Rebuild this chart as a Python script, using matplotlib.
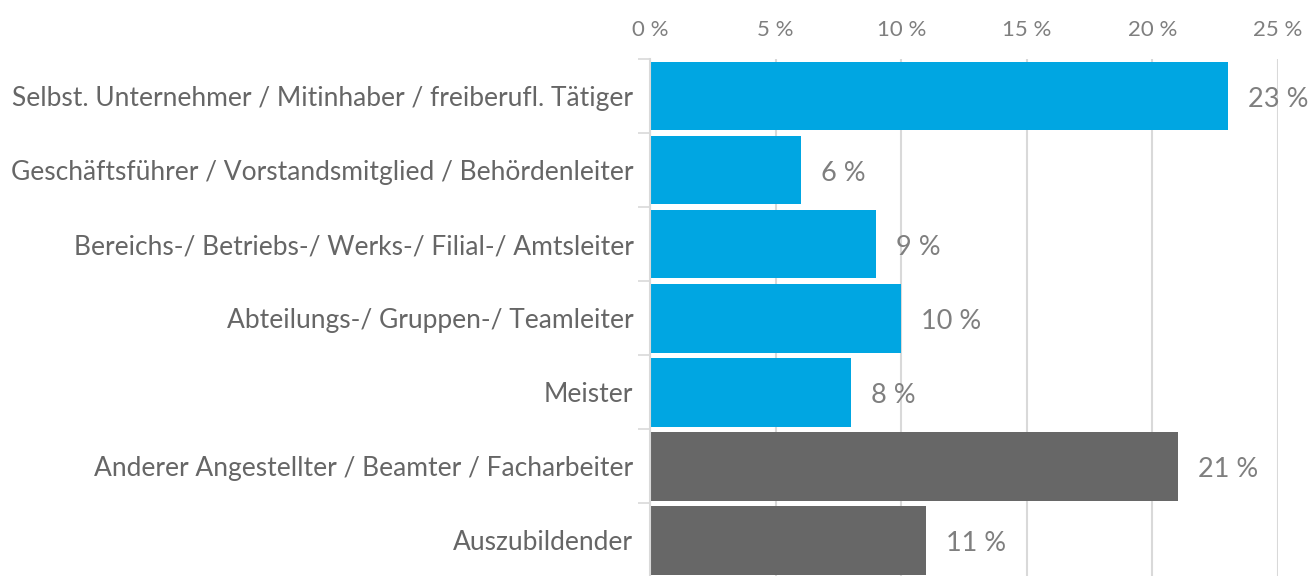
import numpy as np
import matplotlib.pyplot as plt
from matplotlib.ticker import FixedLocator, FuncFormatter

plt.rcParams['font.family'] = ['Lato', 'DejaVu Sans']

categories = [
	'Selbst. Unternehmer / Mitinhaber / freiberufl. Tätiger',
	'Geschäftsführer / Vorstandsmitglied / Behördenleiter',
	'Bereichs-/ Betriebs-/ Werks-/ Filial-/ Amtsleiter',
	'Abteilungs-/ Gruppen-/ Teamleiter',
	'Meister',
	'Anderer Angestellter / Beamter / Facharbeiter',
	'Auszubildender',
]
values = [23, 6, 9, 10, 8, 21, 11]
groups = ['lead', 'lead', 'lead', 'lead', 'lead', 'other', 'other']
ticks = [0, 5, 10, 15, 20, 25]

colors = {'lead': '#00a6e2', 'other': '#676767'}

fig = plt.figure(figsize=(13.09, 5.76), dpi=100)
ax = fig.add_axes([0.4966, -0.002, 0.4797, 0.8995])

y = np.arange(len(categories))
ax.barh(y, values, height=0.93, color=[colors[g] for g in groups], zorder=2)

for yi, v in zip(y, values):
	ax.text(v + 0.8, yi + 0.05, f'{v} %', va='center', ha='left', fontsize=19.5, color='#7f7f7f', zorder=3)

ax.set_xlim(0, 25)
ax.set_ylim(len(categories) - 0.5, -0.5)
ax.xaxis.tick_top()
ax.set_xticks(ticks)
ax.xaxis.set_major_formatter(FuncFormatter(lambda x, pos: f'{int(x)} %'))
ax.tick_params(axis='x', length=0, pad=14, labelsize=16, labelcolor='#7f7f7f')
ax.grid(axis='x', color='#d9d9d9', linewidth=1.5, zorder=0)

ax.set_yticks(y)
ax.set_yticklabels(categories)
ax.yaxis.set_minor_locator(FixedLocator(np.arange(-0.5, len(categories), 1.0)))
ax.tick_params(axis='y', which='major', length=0, pad=12, labelsize=19, labelcolor='#666666')
ax.tick_params(axis='y', which='minor', length=9, width=1.2, color='#d9d9d9')

for s in ['top', 'right', 'bottom']:
	ax.spines[s].set_visible(False)
ax.spines['left'].set_color('#d9d9d9')
ax.spines['left'].set_linewidth(1.5)

fig.savefig('out.png', dpi=100)
